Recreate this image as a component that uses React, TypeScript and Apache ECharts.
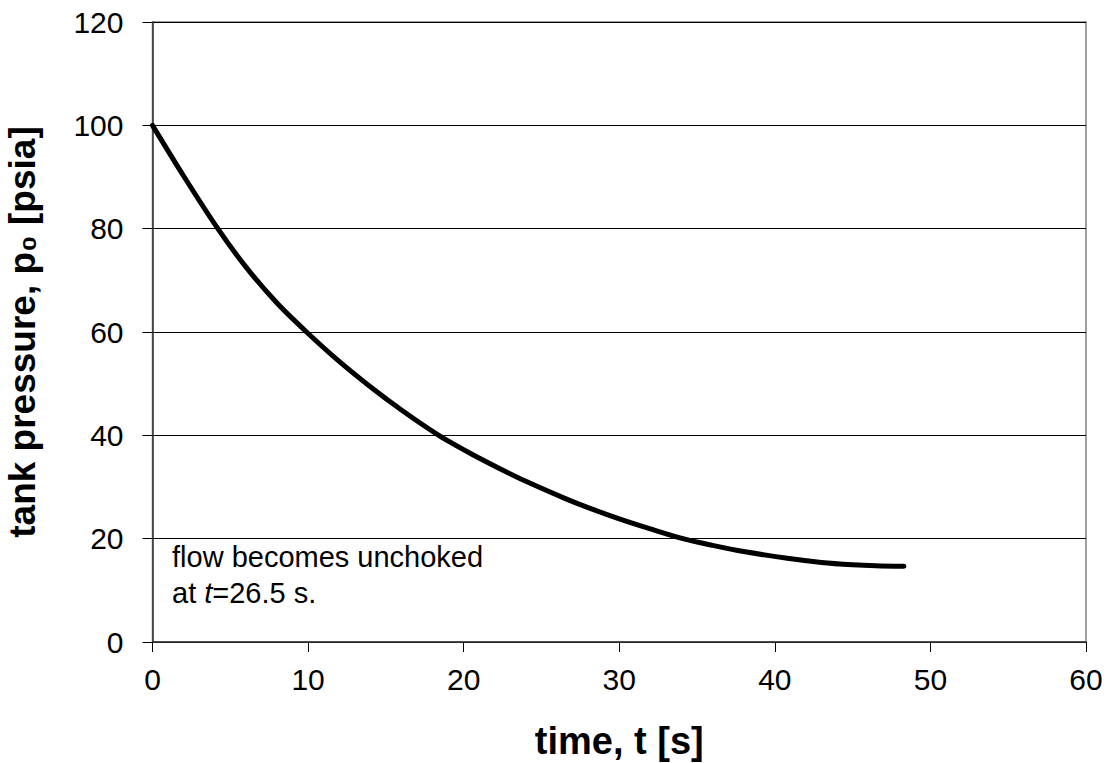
import React, { useEffect, useRef } from "react";
import * as echarts from "echarts";

const timeS = [0, 2, 4.2, 6, 8, 9.9, 12, 14, 16, 18.4, 20.5, 22.3, 24, 26.5, 28, 30, 32, 34.1, 36, 38, 40.8, 43, 45, 46.5, 48.3];
const pressurePsia = [100, 90.2, 80, 72.6, 65.6, 60, 54.3, 49.4, 44.9, 40, 36.4, 33.6, 31.1, 27.8, 26.0, 23.84, 21.9, 20, 18.7, 17.5, 16.2, 15.4, 14.95, 14.75, 14.65];
const xTitle = "time, t [s]";
const yTitle = "tank pressure, p\u2080 [psia]";
const noteLine1 = "flow becomes unchoked";
const noteLine2Pre = "at ";
const noteLine2Var = "t";
const noteLine2Post = "=26.5 s.";

const FONT = "'Liberation Sans', Arial, Helvetica, sans-serif";

export default function App() {
  const ref = useRef<HTMLDivElement>(null);
  useEffect(() => {
    if (!ref.current) return;
    const chart = echarts.init(ref.current, null, { renderer: "svg" });
    const data = timeS.map((t, i) => [t, pressurePsia[i]]);
    chart.setOption({
      animation: false,
      backgroundColor: "#fff",
      textStyle: { fontFamily: FONT },
      grid: {
        left: 152.5,
        right: 26,
        top: 22,
        bottom: 121,
        show: true,
        borderColor: "#808080",
        borderWidth: 1.5,
        containLabel: false,
        outerBoundsMode: "none",
      },
      xAxis: {
        type: "value",
        min: 0,
        max: 60,
        interval: 10,
        name: xTitle,
        nameLocation: "middle",
        nameGap: 80,
        nameTextStyle: { fontFamily: FONT, fontSize: 38, fontWeight: "bold", color: "#000", verticalAlign: "top" },
        axisLine: { show: true, lineStyle: { color: "#333", width: 1.5 } },
        axisTick: { show: true, inside: false, length: 10, lineStyle: { color: "#000", width: 1 } },
        axisLabel: { fontFamily: FONT, fontSize: 30, color: "#000", margin: 22 },
        splitLine: { show: false },
      },
      yAxis: {
        type: "value",
        min: 0,
        max: 120,
        interval: 20,
        name: yTitle,
        nameLocation: "middle",
        nameGap: 112,
        nameRotate: 90,
        nameTextStyle: { fontFamily: FONT, fontSize: 37, fontWeight: "bold", color: "#000" },
        axisLine: { show: true, lineStyle: { color: "#333", width: 1.5 } },
        axisTick: { show: true, inside: false, length: 10, lineStyle: { color: "#000", width: 1 } },
        axisLabel: { fontFamily: FONT, fontSize: 30, color: "#000", margin: 29 },
        splitLine: { show: true, lineStyle: { color: "#000", width: 1 } },
      },
      graphic: [
        {
          type: "text",
          left: 172,
          top: 542,
          z: 10,
          style: {
            text: `{a|${noteLine1}}\n{a|${noteLine2Pre}}{i|${noteLine2Var}}{a|${noteLine2Post}}`,
            rich: {
              a: { fontFamily: FONT, fontSize: 29, color: "#000", lineHeight: 36 },
              i: { fontFamily: FONT, fontSize: 29, color: "#000", lineHeight: 36, fontStyle: "italic" },
            },
          },
        },
      ],
      series: [
        {
          type: "line",
          data,
          smooth: 0.3,
          showSymbol: false,
          symbol: "none",
          lineStyle: { color: "#000", width: 5, cap: "round" },
          z: 5,
        },
      ],
    });
    return () => chart.dispose();
  }, []);
  return (
    <div
      ref={ref}
      style={{ position: "absolute", left: 0, top: 0, width: 1112, height: 763 }}
    />
  );
}
